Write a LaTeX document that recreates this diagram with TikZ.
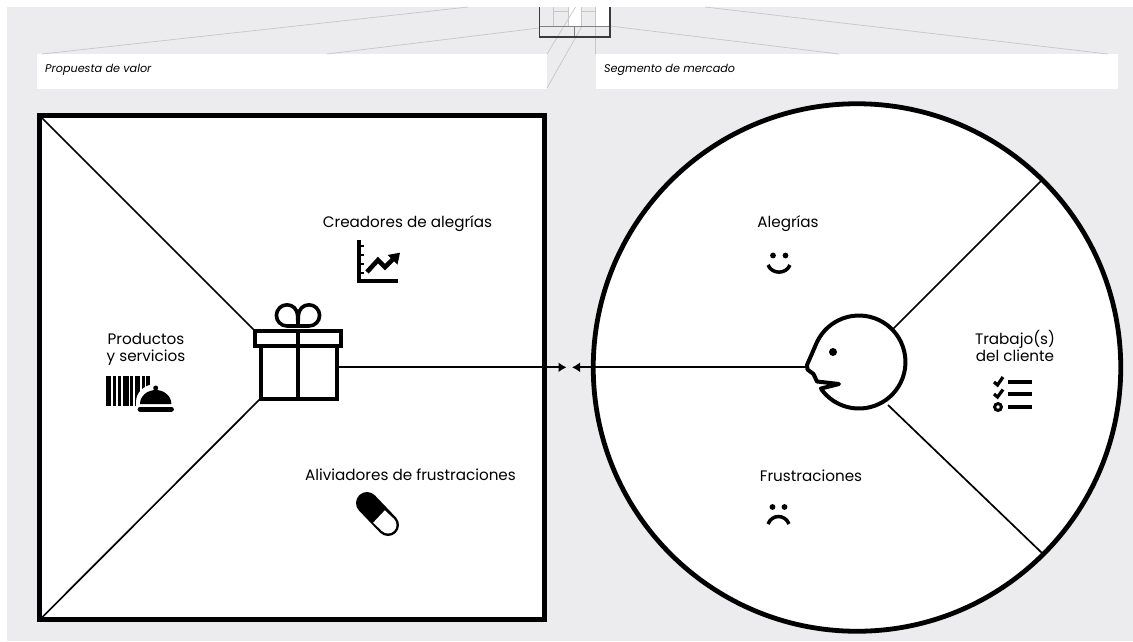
\documentclass[tikz,border=0pt]{standalone}
\usepackage{fontspec}
\setmainfont{Poppins}
\usetikzlibrary{arrows.meta}
\definecolor{bgc}{HTML}{ECECEE}
\definecolor{thinc}{HTML}{C6C6C8}
\definecolor{framec}{HTML}{3A3A3A}
\tikzset{
  lab/.style={inner sep=0pt,align=center,font=\fontsize{15.2}{17}\selectfont,text height=10.5pt,text depth=3pt},
  tag/.style={inner sep=0pt,anchor=west,font=\fontsize{11.2}{12}\selectfont\itshape,text height=7.5pt,text depth=2pt},
  thin gray/.style={draw=thinc,line width=0.7pt},
  icon/.style={draw=black,line width=4pt},
  link/.style={draw=black,line width=1.7pt},
  arrowed/.style={link,-{Latex[length=8pt,width=10pt]}},
}
\begin{document}
\begin{tikzpicture}[x=1pt,y=-1pt]
\useasboundingbox (0,0) rectangle (1133,641);
\fill[white] (0,0) rectangle (1133,641);
\fill[bgc] (7,7) rectangle (1133,641);
% mini canvas
\fill[white] (568,0) rectangle (581,26);
\fill[white] (596,0) rectangle (610,26);
\fill[white] (539,0) rectangle (610,7);
\fill[white] (37,54) rectangle (547,88.5);
\fill[white] (596,54) rectangle (1118,88.5);
\coordinate (a1) at (468,7); \coordinate (a2) at (42,54);
\coordinate (b1) at (539,28); \coordinate (b2) at (327,54);
\coordinate (c1) at (705,7); \coordinate (c2) at (1108,54);
\coordinate (d1) at (610,26); \coordinate (d2) at (839,54);
\coordinate (e1) at (575.5,7); \coordinate (e2) at (547,54);
\coordinate (f1) at (581.5,27); \coordinate (f2) at (547,88);
\coordinate (g1) at (595.5,26); \coordinate (g2) at (595.5,54);
\draw[thin gray] (a1)--(a2) (b1)--(b2) (c1)--(c2) (d1)--(d2) (e1)--(e2) (f1)--(f2) (g1)--(g2);
\draw[thin gray] (553,7)--(553,26) (568,7)--(568,26) (581,7)--(581,26) (595.5,7)--(595.5,26);
\draw[thin gray] (553,11)--(568,11) (581,11)--(596,11);
\draw[thin gray,draw=gray] (539,26)--(610,26) (574.5,26)--(574.5,37);
\draw[draw=framec,line width=1.1pt] (539.5,7)--(539.5,37)--(610,37)--(610,7);
% main square
\node[draw=black,line width=5pt,fill=white,minimum width=505pt,minimum height=504.5pt,inner sep=0pt,outer sep=0pt] (sq) at (292,367.5) {};
% main circle
\node[draw=black,line width=4.8pt,fill=white,circle,minimum size=527.5pt,inner sep=0pt,outer sep=0pt] (ci) at (857,367.5) {};
\coordinate (sq1) at (39.5,115.5); \coordinate (sq2) at (39.5,620);
\coordinate (gf1) at (255,331); \coordinate (gf2) at (260,399);
\draw[link] (sq1)--(gf1) (sq2)--(gf2);
\coordinate (ci1) at (1042,180); \coordinate (ci2) at (1042,553);
\coordinate (hd1) at (893,329); \coordinate (hd2) at (888,405);
\draw[link] (ci1)--(hd1) (ci2)--(hd2);
% arrows
\coordinate (gfr) at (338,367.3); \coordinate (tipl) at (566.5,367.3);
\coordinate (hdl) at (806,367.3); \coordinate (tipr) at (572,367.3);
\draw[arrowed] (gfr)--(tipl);
\draw[arrowed] (hdl)--(tipr);
% gift
\fill[white] (255,331) rectangle (341,346);
\draw[icon] (255,331) rectangle (341,346);
\draw[icon] (260.5,346) rectangle (337,398.5);
\draw[icon] (298,331)--(298,398.5);
\draw[icon,line width=3.6pt] (298,326)--(287,326) arc[start angle=90,end angle=360,radius=10.6] -- (298,326);
\draw[icon,line width=3.6pt] (298,326)--(309,326) arc[start angle=90,end angle=-180,radius=10.6] -- (298,326);
% barcode + bell
\foreach \a/\b in {106/111,112.5/116,117.5/121,122.5/128.5,130/133,135/140,141.5/145,146/150}
  \fill (\a,376) rectangle (\b,406);
\fill[white] (136,406)--(136,402) arc[start angle=180,end angle=360,x radius=20,y radius=18]--(176,406)--cycle;
\fill (140,404) arc[start angle=180,end angle=360,x radius=15.7,y radius=14]--cycle;
\fill (155.7,388) circle[radius=2.5];
\draw[line width=4.8pt,line cap=round] (140,409.2)--(171.5,409.2);
% chart
\draw[icon,line width=3.2pt] (359,240)--(359,281)--(398,281);
\draw[icon,line width=2.6pt] (359,246)--(363.5,246) (359,255)--(363.5,255) (359,264)--(363.5,264) (359,273)--(363.5,273);
\draw[icon,line width=4.6pt] (367,272)--(378,260)--(385,267)--(394,258);
\fill (400,252.7)--(387.5,255)--(397.5,264.5)--cycle;
% pill
\draw[line width=22pt,line cap=round] (367,503)--(388,525);
\draw[white,line width=17pt] (379,516.5)--(388,525);
\fill[white] (388,525) circle[radius=8.5];
% face
\draw[icon,line join=round] (817,342) arc[start angle=205.5,end angle=502,radius=46.5]
  -- (821,388.5) -- (839,384) -- (817,381.5) -- (813.5,374) -- (807.5,369.5) -- (807,365) -- cycle;
\fill (833,352) circle[radius=4];
% list
\foreach \y in {382,394,407} \fill (1008,\y-2.1) rectangle (1032,\y+2.1);
\draw[line width=3.2pt] (994,382)--(997.5,385)--(1003,377);
\draw[line width=3.2pt] (994,394)--(997.5,397)--(1003,389.5);
\draw[line width=3pt] (998,407) circle[radius=3.4];
% smile
\fill (773,255.5) circle[radius=2.9] (785.5,255.5) circle[radius=2.9];
\draw[line width=3.5pt] (768,265) .. controls (772,274.5) and (786,274.5) .. (790,265);
% frown
\fill (772.5,507) circle[radius=2.9] (784.5,507) circle[radius=2.9];
\draw[line width=3.5pt] (768,524) .. controls (772,514) and (785,514) .. (789,524);
% labels
\node[tag] (t1) at (45,69.5) {Propuesta de valor};
\node[tag] (t2) at (604,69.5) {Segmento de mercado};
\node[lab] (l1) at (407.5,223.5) {Creadores de alegrías};
\node[lab] (l2) at (146,340.5) {Productos};
\node[lab] (l3) at (146,357.5) {y servicios};
\node[lab] (l4) at (410.5,476.5) {Aliviadores de frustraciones};
\node[lab] (l5) at (788,223.5) {Alegrías};
\node[lab] (l6) at (811,477.5) {Frustraciones};
\node[lab] (l7) at (1015,340.5) {Trabajo(s)};
\node[lab] (l8) at (1015,357.5) {del cliente};
\end{tikzpicture}
\end{document}
